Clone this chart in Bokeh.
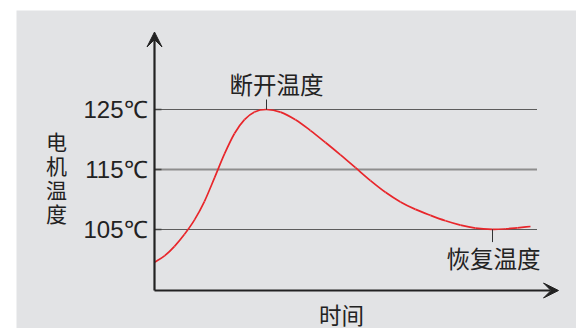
from bokeh.plotting import figure
from bokeh.models import Range1d, Arrow, VeeHead
from bokeh.core.properties import value
from bokeh.embed import file_html
from bokeh.resources import INLINE

# ---- data ----
time = [0.0, 1.0, 2.0, 3.0, 4.0, 5.0, 6.0, 7.0, 8.0, 9.0, 10.0, 11.2,
        12.6, 14.1, 15.6, 17.1, 18.6, 20.1, 21.6, 23.1, 24.6, 26.1, 27.6,
        29.1, 30.6, 32.1, 33.8, 35.1, 36.3, 37.6]
temp = [99.55, 100.6, 102.2, 104.2, 106.6, 109.7, 113.6, 117.6, 121.0, 123.3, 124.6, 125.0,
        124.57, 123.29, 121.49, 119.5, 117.44, 115.3, 113.16, 111.21, 109.6, 108.35, 107.35,
        106.45, 105.72, 105.22, 105.02, 105.1, 105.28, 105.5]
tick_values = [105, 115, 125]
tick_labels = ["105℃", "115℃", "125℃"]
y_label = "电机温度"
x_label = "时间"
peak_label = "断开温度"
valley_label = "恢复温度"

CJK = value("Noto Sans CJK SC")
BG = "#e2e3e5"
INK = "#222222"

PX = 10.0   # screen px per time unit
PY = 6.0    # screen px per degree

p = figure(width=576, height=328, output_backend="svg", toolbar_location=None,
           x_axis_location=None, y_axis_location=None,
           min_border_left=16, min_border_top=10, min_border_right=0, min_border_bottom=0,
           x_range=Range1d(-13.8, -13.8 + 560 / PX),
           y_range=Range1d(141.5 - 318 / PY, 141.5))
p.background_fill_color = BG
p.border_fill_color = "white"
p.outline_line_color = None
p.grid.visible = False

axis_y0 = 125 - (290 - 109) / PY   # level of the time axis
grid_end = 38.25

# grid lines at tick values
for v in tick_values:
    if v == 115:
        p.segment(x0=[0], y0=[v], x1=[grid_end], y1=[v], line_color="#8e8e8e", line_width=1.8)
    else:
        p.segment(x0=[0], y0=[v], x1=[grid_end], y1=[v], line_color="#5c5c5c", line_width=1.1)
p.segment(x0=[0] * len(tick_values), y0=tick_values, x1=[0.7] * len(tick_values),
          y1=tick_values, line_color="#444444", line_width=1.6)

# tick labels
p.text(x=[-0.7] * len(tick_values), y=tick_values, text=tick_labels,
       text_align="right", text_baseline="middle", text_font=value("Liberation Sans"),
       text_font_size="24px", text_color=INK)

# smooth curve through the read points (cubic Hermite drawn as Bezier pieces)
n = len(time)
slopes = []
for i in range(n):
    a = max(i - 1, 0)
    b = min(i + 1, n - 1)
    slopes.append((temp[b] - temp[a]) / (time[b] - time[a]))
x0, y0, x1, y1, cx0, cy0, cx1, cy1 = [], [], [], [], [], [], [], []
for i in range(n - 1):
    h = time[i + 1] - time[i]
    x0.append(time[i]); y0.append(temp[i])
    x1.append(time[i + 1]); y1.append(temp[i + 1])
    cx0.append(time[i] + h / 3); cy0.append(temp[i] + slopes[i] * h / 3)
    cx1.append(time[i + 1] - h / 3); cy1.append(temp[i + 1] - slopes[i + 1] * h / 3)
p.bezier(x0=x0, y0=y0, x1=x1, y1=y1, cx0=cx0, cy0=cy0, cx1=cx1, cy1=cy1,
         line_color="#e8262b", line_width=1.7)

# axes with arrows
p.add_layout(Arrow(end=VeeHead(size=15, fill_color=INK, line_color=INK),
                   x_start=0, y_start=axis_y0, x_end=40.4, y_end=axis_y0,
                   line_color=INK, line_width=2.2))
p.add_layout(Arrow(end=VeeHead(size=15, fill_color=INK, line_color=INK),
                   x_start=0, y_start=axis_y0, x_end=0, y_end=125 + (109 - 31.5) / PY,
                   line_color=INK, line_width=2.2))

# peak / valley markers
i_max = max(range(n), key=lambda i: temp[i])
t_max, T_max = time[i_max], temp[i_max]
i_min = min(range(i_max, n), key=lambda i: temp[i])
t_min, T_min = time[i_min], temp[i_min]

p.segment(x0=[t_max], y0=[T_max], x1=[t_max], y1=[T_max + 10 / PY],
          line_color="#333333", line_width=1)
p.segment(x0=[t_min], y0=[T_min], x1=[t_min], y1=[T_min - 12.7 / PY],
          line_color="#333333", line_width=1)

p.text(x=[t_max + 1.0], y=[T_max + 26 / PY], text=[peak_label], text_align="center",
       text_baseline="middle", text_font=CJK, text_font_size="23.5px", text_color=INK)
p.text(x=[t_min + 0.1], y=[T_min - 28.5 / PY], text=[valley_label], text_align="center",
       text_baseline="middle", text_font=CJK, text_font_size="23.5px", text_color=INK)

# axis titles
p.text(x=[18.7], y=[125 - (313 - 109) / PY], text=[x_label], text_align="center",
       text_baseline="middle", text_font=CJK, text_font_size="22.5px", text_color=INK)
chars = list(y_label)
p.text(x=[-9.8] * len(chars), y=[125 - (140 + 24 * k - 109) / PY for k in range(len(chars))],
       text=chars, text_align="center", text_baseline="middle", text_font=CJK,
       text_font_size="21px", text_color=INK)

open("out.html", "w").write(file_html(p, INLINE))
